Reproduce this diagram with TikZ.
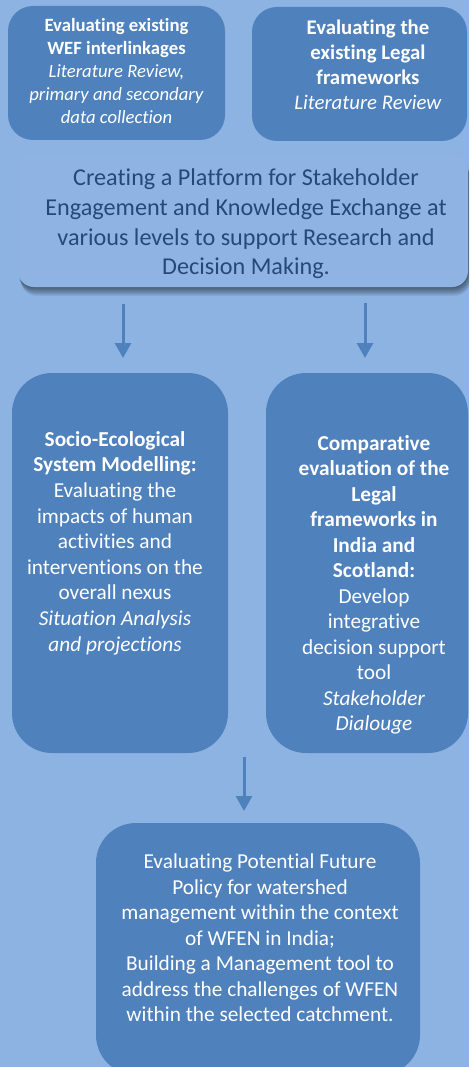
\documentclass[tikz,border=0pt]{standalone}
\usepackage{fontspec}
\setmainfont{Carlito}[Ligatures=NoCommon]
\usetikzlibrary{arrows.meta}
\definecolor{bg}{HTML}{8DB3E2}
\definecolor{boxblue}{HTML}{4F81BD}
\definecolor{midfill}{HTML}{8FB4E3}
\definecolor{midtext}{HTML}{27497A}
\tikzset{
  box/.style={rectangle, fill=boxblue, inner sep=0pt, draw=none},
  midbox/.style={rectangle, fill=midfill, inner sep=0pt, draw=none, rounded corners=16pt, minimum width=450pt, minimum height=132pt},
  shadowbox/.style={rectangle, fill=black, fill opacity=0.07, inner sep=0pt, draw=none, rounded corners=16pt, minimum width=450pt, minimum height=132pt},
  wtext/.style={text=white, align=center, inner sep=0pt},
  arr/.style={draw=boxblue, line width=3pt, -{Triangle[width=16pt,length=15pt]}},
}
\begin{document}
\begin{tikzpicture}[x=1pt,y=-1pt]
\clip (0,0) rectangle (469,1067);
\fill[bg] (0,0) rectangle (469,1067);
\useasboundingbox (0,0) rectangle (469,1067);

% top boxes
\node[box, rounded corners=25pt, minimum width=217pt, minimum height=134pt] (b1) at (116.5,73) {};
\node[wtext, font=\fontsize{18.7}{23}\selectfont] (t1) at (116.5,71) {\textbf{Evaluating existing}\\\textbf{WEF interlinkages}\\\textit{Literature Review,}\\\textit{primary and secondary}\\\textit{data collection}};

\node[box, rounded corners=25pt, minimum width=215pt, minimum height=134pt] (b2) at (359.5,74) {};
\node[wtext, font=\fontsize{20.8}{25}\selectfont] (t2) at (368,65) {\textbf{Evaluating the}\\\textbf{existing Legal}\\\textbf{frameworks}\\\textit{Literature Review}};

% central box with shadow
\foreach \s in {1,2,3,4,5,6,7,8}{
  \node[shadowbox] at ({243+0.35*\s},{221+1.1*\s}) {};
}
\node[midbox] (mid) at (243,221) {};
\node[text=midtext, align=center, inner sep=0pt, font=\fontsize{24.2}{29.6}\selectfont] (tm) at (246,224) {Creating a Platform for Stakeholder\\Engagement and Knowledge Exchange at\\various levels to support Research and\\Decision Making.};

% middle boxes
\node[box, rounded corners=40pt, minimum width=216pt, minimum height=380pt] (b3) at (120,563) {};
\node[wtext, font=\fontsize{21.3}{25.6}\selectfont] (t3) at (115,543) {\textbf{Socio-Ecological}\\\textbf{System Modelling:}\\Evaluating the\\impacts of human\\activities and\\interventions on the\\overall nexus\\\textit{Situation Analysis}\\\textit{and projections}};

\node[box, rounded corners=40pt, minimum width=202pt, minimum height=380pt] (b4) at (367,563) {};
\node[wtext, font=\fontsize{21.3}{25.5}\selectfont] (t4) at (374,585) {\textbf{Comparative}\\\textbf{evaluation of the}\\\textbf{Legal}\\\textbf{frameworks in}\\\textbf{India and}\\\textbf{Scotland:}\\Develop\\integrative\\decision support\\tool\\\textit{Stakeholder}\\\textit{Dialouge}};

% bottom box
\node[box, rounded corners=40pt, minimum width=324pt, minimum height=252pt] (b5) at (258,949) {};
\node[wtext, font=\fontsize{21.3}{25.5}\selectfont] (t5) at (260,938) {Evaluating Potential Future\\Policy for watershed\\management within the context\\of WFEN in India;\\Building a Management tool to\\address the challenges of WFEN\\within the selected catchment.};

% arrows
\coordinate (a1s) at (123,304);
\coordinate (a1e) at (123,358);
\coordinate (a2s) at (365,303);
\coordinate (a2e) at (365,358);
\coordinate (a3s) at (244,757);
\coordinate (a3e) at (244,811);
\draw[arr] (a1s) -- (a1e);
\draw[arr] (a2s) -- (a2e);
\draw[arr] (a3s) -- (a3e);
\end{tikzpicture}
\end{document}
